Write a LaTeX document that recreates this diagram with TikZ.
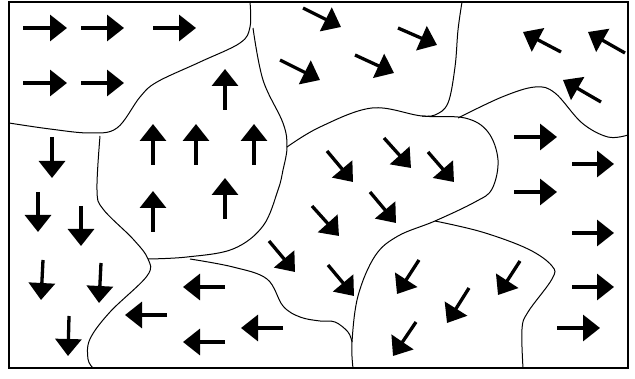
\documentclass[tikz,border=0pt]{standalone}
\usepackage{tikz}
\usetikzlibrary{arrows.meta}
\tikzset{
  spin/.style={line width=3.3pt,-{Triangle[length=17pt,width=26pt]}},
  wall/.style={line width=1pt}
}

\begin{document}
\begin{tikzpicture}[x=1pt,y=-1pt]
  \useasboundingbox (0,0) rectangle (635,379);
  % Frame
  \draw[line width=2.6pt] (9,2) rectangle (628,368);

  % Domain walls
  \draw[wall] plot[smooth,tension=0.6] coordinates
    {(9,123) (50,129) (90,133) (117,128) (140,97) (157,82) (200,62) (240,43) (250,27) (250,2)};
  \draw[wall] plot[smooth,tension=0.6] coordinates
    {(253,28) (263,80) (283,123) (287,147) (283,170) (278,190) (263,226) (233,249) (187,257) (148,259)};
  \draw[wall] plot[smooth,tension=0.6] coordinates
    {(287,147) (320,127) (372,108) (422,116) (465,118) (488,132) (498,160) (492,189) (475,202)
     (435,221) (398,236) (375,256) (358,296) (352,342) (353,368)};
  \draw[wall] plot[smooth,tension=0.6] coordinates
    {(462,2) (458,30) (455,67) (448,103) (435,115) (422,116)};
  \draw[wall] plot[smooth,tension=0.6] coordinates
    {(458,118) (502,97) (535,87) (555,93) (582,123) (608,137) (628,135)};
  \draw[wall] plot[smooth,tension=0.6] coordinates
    {(100,136) (97,190) (103,209) (133,239) (148,259) (147,276) (110,312) (90,339) (88,359) (93,368)};
  \draw[wall] plot[smooth,tension=0.6] coordinates
    {(190,259) (233,267) (267,279) (283,306) (300,317) (320,321) (335,322) (348,332) (352,342)};
  \draw[wall] plot[smooth,tension=0.6] coordinates
    {(435,221) (482,232) (528,249) (552,266) (552,279) (528,312) (522,329) (523,368)};

  % Magnetisation arrows
  \foreach \xa/\ya/\xb/\yb in {
    23/28/67/28, 81/28/124/28, 153/28/196/28, 23/83/67/83, 81/83/124/83,
    225/110/225/69, 153/165/153/124, 196/165/196/124, 254/165/254/124,
    153/232/153/191, 225/219/225/178,
    52/137/52/178, 38/192/38/232, 81/206/81/246, 43/260/41/300, 101/263/99/303, 69/316/68/356,
    225/287/183/287, 167/315/125/315, 225/342/183/342, 283/328/241/328,
    303/8/341/27, 398/28/437/45, 355/55/394/73, 280/60/320/80,
    561/52/523/32, 625/53/588/32, 601/102/563/80,
    514/137/557/137, 572/164/614/164, 514/192/557/192, 572/233/614/233,
    572/287/614/287, 557/328/600/328,
    327/151/353/182, 384/138/411/168, 428/152/454/182,
    312/206/339/236, 370/192/396/223, 328/265/354/296, 269/241/295/272,
    419/260/397/294, 520/261/498/295, 469/288/447/323, 416/322/393/356}
    \draw[spin] (\xa,\ya) -- (\xb,\yb);
\end{tikzpicture}
\end{document}
